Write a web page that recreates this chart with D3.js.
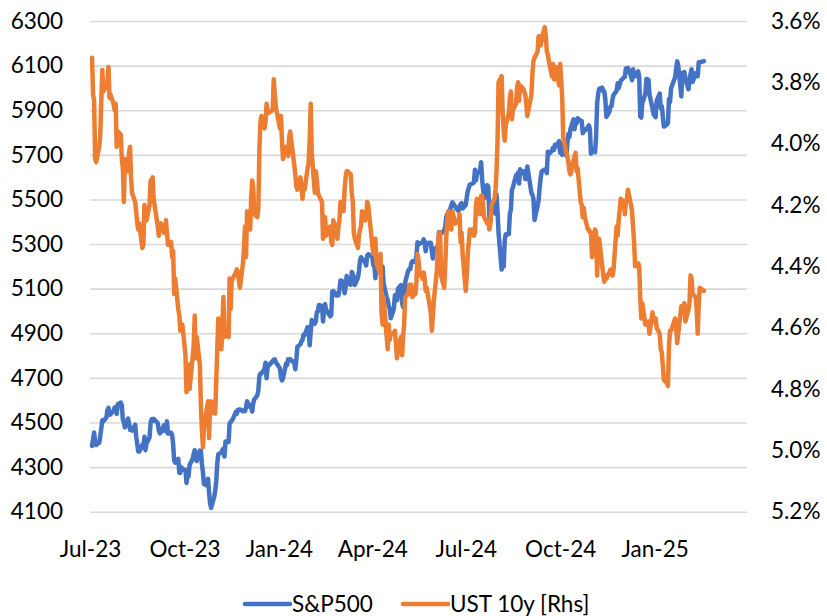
<!DOCTYPE html>
<html><head><meta charset="utf-8">
<script src="https://cdn.jsdelivr.net/npm/d3@7"></script>
<style>
body{margin:0;background:#fff;}
svg text{font-family:Lato,"Open Sans",sans-serif;fill:#000;}
</style></head>
<body><svg id="c" width="827" height="616"></svg>
<script>
const leftTicks = [4100,4300,4500,4700,4900,5100,5300,5500,5700,5900,6100,6300];
const rightTicks = [3.6,3.8,4.0,4.2,4.4,4.6,4.8,5.0,5.2];
const xTickLabels = ["2023-07-01","2023-10-01","2024-01-01","2024-04-01","2024-07-01","2024-10-01","2025-01-01"];
const seriesNames = ["S&P500","UST 10y [Rhs]"];

const spx = [
["2023-07-03",4395],["2023-07-05",4455],["2023-07-06",4411],["2023-07-07",4399],["2023-07-10",4409],["2023-07-11",4440],["2023-07-12",4473],["2023-07-13",4510],["2023-07-14",4505],["2023-07-17",4523],["2023-07-18",4555],["2023-07-19",4566],["2023-07-20",4535],["2023-07-21",4536],["2023-07-24",4555],["2023-07-25",4567],["2023-07-26",4566],["2023-07-27",4538],["2023-07-28",4582],["2023-07-31",4589],
["2023-08-01",4577],["2023-08-02",4513],["2023-08-03",4502],["2023-08-04",4478],["2023-08-07",4518],["2023-08-08",4499],["2023-08-09",4467],["2023-08-10",4468],["2023-08-11",4464],["2023-08-14",4490],["2023-08-15",4437],["2023-08-16",4404],["2023-08-17",4370],["2023-08-18",4370],["2023-08-21",4400],["2023-08-22",4388],["2023-08-23",4436],["2023-08-24",4376],["2023-08-25",4406],["2023-08-28",4433],["2023-08-29",4497],["2023-08-30",4514],["2023-08-31",4508],
["2023-09-01",4516],["2023-09-05",4497],["2023-09-06",4465],["2023-09-07",4451],["2023-09-08",4457],["2023-09-11",4487],["2023-09-12",4462],["2023-09-13",4467],["2023-09-14",4505],["2023-09-15",4450],["2023-09-18",4454],["2023-09-19",4444],["2023-09-20",4402],["2023-09-21",4330],["2023-09-22",4320],["2023-09-25",4337],["2023-09-26",4274],["2023-09-27",4274],["2023-09-28",4300],["2023-09-29",4288],
["2023-10-02",4288],["2023-10-03",4229],["2023-10-04",4263],["2023-10-05",4258],["2023-10-06",4309],["2023-10-09",4336],["2023-10-10",4358],["2023-10-11",4376],["2023-10-12",4349],["2023-10-13",4327],["2023-10-16",4374],["2023-10-17",4373],["2023-10-18",4315],["2023-10-19",4278],["2023-10-20",4224],["2023-10-23",4217],["2023-10-24",4248],["2023-10-25",4186],["2023-10-26",4137],["2023-10-27",4117],["2023-10-30",4167],["2023-10-31",4194],
["2023-11-01",4238],["2023-11-02",4318],["2023-11-03",4358],["2023-11-06",4365],["2023-11-07",4378],["2023-11-08",4383],["2023-11-09",4347],["2023-11-10",4415],["2023-11-13",4412],["2023-11-14",4496],["2023-11-15",4502],["2023-11-16",4508],["2023-11-17",4514],["2023-11-20",4547],["2023-11-21",4538],["2023-11-22",4556],["2023-11-24",4559],["2023-11-27",4550],["2023-11-28",4555],["2023-11-29",4551],["2023-11-30",4568],
["2023-12-01",4595],["2023-12-04",4569],["2023-12-05",4567],["2023-12-06",4549],["2023-12-07",4585],["2023-12-08",4604],["2023-12-11",4622],["2023-12-12",4644],["2023-12-13",4707],["2023-12-14",4720],["2023-12-15",4719],["2023-12-18",4740],["2023-12-19",4768],["2023-12-20",4698],["2023-12-21",4747],["2023-12-22",4755],["2023-12-26",4775],["2023-12-27",4782],["2023-12-28",4783],["2023-12-29",4770],
["2024-01-02",4743],["2024-01-03",4705],["2024-01-04",4689],["2024-01-05",4697],["2024-01-08",4764],["2024-01-09",4757],["2024-01-10",4783],["2024-01-11",4780],["2024-01-12",4784],["2024-01-16",4766],["2024-01-17",4739],["2024-01-18",4781],["2024-01-19",4840],["2024-01-22",4851],["2024-01-23",4865],["2024-01-24",4869],["2024-01-25",4894],["2024-01-26",4891],["2024-01-29",4928],["2024-01-30",4925],["2024-01-31",4846],
["2024-02-01",4906],["2024-02-02",4959],["2024-02-05",4943],["2024-02-06",4954],["2024-02-07",4995],["2024-02-08",4998],["2024-02-09",5027],["2024-02-12",5022],["2024-02-13",4953],["2024-02-14",5001],["2024-02-15",5030],["2024-02-16",5006],["2024-02-20",4976],["2024-02-21",4982],["2024-02-22",5088],["2024-02-23",5089],["2024-02-26",5070],["2024-02-27",5078],["2024-02-28",5070],["2024-02-29",5096],
["2024-03-01",5137],["2024-03-04",5131],["2024-03-05",5079],["2024-03-06",5105],["2024-03-07",5157],["2024-03-08",5124],["2024-03-11",5118],["2024-03-12",5175],["2024-03-13",5165],["2024-03-14",5150],["2024-03-15",5117],["2024-03-18",5149],["2024-03-19",5179],["2024-03-20",5225],["2024-03-21",5241],["2024-03-22",5234],["2024-03-25",5218],["2024-03-26",5204],["2024-03-27",5248],["2024-03-28",5254],
["2024-04-01",5243],["2024-04-02",5205],["2024-04-03",5211],["2024-04-04",5147],["2024-04-05",5204],["2024-04-08",5202],["2024-04-09",5209],["2024-04-10",5161],["2024-04-11",5199],["2024-04-12",5123],["2024-04-15",5061],["2024-04-16",5051],["2024-04-17",5022],["2024-04-18",5011],["2024-04-19",4967],["2024-04-22",5010],["2024-04-23",5070],["2024-04-24",5072],["2024-04-25",5048],["2024-04-26",5100],["2024-04-29",5116],["2024-04-30",5036],
["2024-05-01",5018],["2024-05-02",5064],["2024-05-03",5128],["2024-05-06",5181],["2024-05-07",5187],["2024-05-08",5188],["2024-05-09",5214],["2024-05-10",5223],["2024-05-13",5221],["2024-05-14",5247],["2024-05-15",5308],["2024-05-16",5297],["2024-05-17",5303],["2024-05-20",5308],["2024-05-21",5321],["2024-05-22",5307],["2024-05-23",5268],["2024-05-24",5305],["2024-05-28",5306],["2024-05-29",5267],["2024-05-30",5235],["2024-05-31",5278],
["2024-06-03",5283],["2024-06-04",5291],["2024-06-05",5354],["2024-06-06",5352],["2024-06-07",5347],["2024-06-10",5361],["2024-06-11",5375],["2024-06-12",5421],["2024-06-13",5434],["2024-06-14",5432],["2024-06-17",5473],["2024-06-18",5487],["2024-06-20",5473],["2024-06-21",5465],["2024-06-24",5448],["2024-06-25",5469],["2024-06-26",5478],["2024-06-27",5483],["2024-06-28",5460],
["2024-07-01",5475],["2024-07-02",5509],["2024-07-03",5537],["2024-07-05",5567],["2024-07-08",5572],["2024-07-09",5577],["2024-07-10",5633],["2024-07-11",5585],["2024-07-12",5615],["2024-07-15",5631],["2024-07-16",5667],["2024-07-17",5588],["2024-07-18",5545],["2024-07-19",5505],["2024-07-22",5564],["2024-07-23",5556],["2024-07-24",5427],["2024-07-25",5399],["2024-07-26",5459],["2024-07-29",5464],["2024-07-30",5436],["2024-07-31",5522],
["2024-08-01",5446],["2024-08-02",5347],["2024-08-05",5186],["2024-08-06",5240],["2024-08-07",5199],["2024-08-08",5319],["2024-08-09",5344],["2024-08-12",5344],["2024-08-13",5435],["2024-08-14",5455],["2024-08-15",5543],["2024-08-16",5554],["2024-08-19",5608],["2024-08-20",5597],["2024-08-21",5621],["2024-08-22",5571],["2024-08-23",5635],["2024-08-26",5617],["2024-08-27",5626],["2024-08-28",5592],["2024-08-29",5592],["2024-08-30",5648],
["2024-09-03",5529],["2024-09-04",5520],["2024-09-05",5503],["2024-09-06",5408],["2024-09-09",5471],["2024-09-10",5496],["2024-09-11",5554],["2024-09-12",5596],["2024-09-13",5626],["2024-09-16",5634],["2024-09-17",5634],["2024-09-18",5618],["2024-09-19",5714],["2024-09-20",5703],["2024-09-23",5718],["2024-09-24",5732],["2024-09-25",5722],["2024-09-26",5745],["2024-09-27",5738],["2024-09-30",5762],
["2024-10-01",5709],["2024-10-02",5710],["2024-10-03",5700],["2024-10-04",5751],["2024-10-07",5696],["2024-10-08",5751],["2024-10-09",5793],["2024-10-10",5780],["2024-10-11",5815],["2024-10-14",5859],["2024-10-15",5815],["2024-10-16",5843],["2024-10-17",5841],["2024-10-18",5864],["2024-10-21",5853],["2024-10-22",5851],["2024-10-23",5797],["2024-10-24",5809],["2024-10-25",5808],["2024-10-28",5823],["2024-10-29",5832],["2024-10-30",5813],["2024-10-31",5705],
["2024-11-01",5729],["2024-11-04",5712],["2024-11-05",5782],["2024-11-06",5929],["2024-11-07",5973],["2024-11-08",5996],["2024-11-11",6001],["2024-11-12",5984],["2024-11-13",5985],["2024-11-14",5949],["2024-11-15",5870],["2024-11-18",5894],["2024-11-19",5917],["2024-11-20",5917],["2024-11-21",5949],["2024-11-22",5969],["2024-11-25",5987],["2024-11-26",6021],["2024-11-27",5999],["2024-11-29",6032],
["2024-12-02",6047],["2024-12-03",6050],["2024-12-04",6087],["2024-12-05",6075],["2024-12-06",6090],["2024-12-09",6053],["2024-12-10",6034],["2024-12-11",6084],["2024-12-12",6051],["2024-12-13",6051],["2024-12-16",6074],["2024-12-17",6051],["2024-12-18",5872],["2024-12-19",5867],["2024-12-20",5931],["2024-12-23",5974],["2024-12-24",6040],["2024-12-26",6037],["2024-12-27",5971],["2024-12-30",5907],["2024-12-31",5882],
["2025-01-02",5869],["2025-01-03",5942],["2025-01-06",5975],["2025-01-07",5909],["2025-01-08",5918],["2025-01-10",5827],["2025-01-13",5836],["2025-01-14",5843],["2025-01-15",5950],["2025-01-16",5937],["2025-01-17",5997],["2025-01-21",6049],["2025-01-22",6086],["2025-01-23",6119],["2025-01-24",6101],["2025-01-27",5962],["2025-01-28",6067],["2025-01-29",6039],["2025-01-30",6071],["2025-01-31",6041],
["2025-02-03",5994],["2025-02-04",6038],["2025-02-05",6061],["2025-02-06",6084],["2025-02-07",6026],["2025-02-10",6066],["2025-02-11",6069],["2025-02-12",6052],["2025-02-13",6115],["2025-02-14",6115],["2025-02-18",6120]
];

const ust = [
["2023-07-03",3.72],["2023-07-04",3.84],["2023-07-05",3.86],["2023-07-06",4.05],["2023-07-07",4.06],["2023-07-10",4.01],["2023-07-11",3.97],["2023-07-12",3.86],["2023-07-13",3.76],["2023-07-14",3.83],["2023-07-17",3.81],["2023-07-18",3.80],["2023-07-19",3.75],["2023-07-20",3.85],["2023-07-21",3.84],["2023-07-24",3.87],["2023-07-25",3.89],["2023-07-26",3.87],["2023-07-27",4.01],["2023-07-28",3.96],["2023-07-31",3.97],
["2023-08-01",4.05],["2023-08-02",4.08],["2023-08-03",4.19],["2023-08-04",4.05],["2023-08-07",4.09],["2023-08-08",4.03],["2023-08-09",4.01],["2023-08-10",4.11],["2023-08-11",4.16],["2023-08-14",4.19],["2023-08-15",4.22],["2023-08-16",4.26],["2023-08-17",4.28],["2023-08-18",4.26],["2023-08-21",4.34],["2023-08-22",4.33],["2023-08-23",4.20],["2023-08-24",4.24],["2023-08-25",4.25],["2023-08-28",4.20],["2023-08-29",4.12],["2023-08-30",4.12],["2023-08-31",4.11],
["2023-09-01",4.18],["2023-09-05",4.27],["2023-09-06",4.30],["2023-09-07",4.27],["2023-09-08",4.26],["2023-09-11",4.29],["2023-09-12",4.28],["2023-09-13",4.25],["2023-09-14",4.29],["2023-09-15",4.33],["2023-09-18",4.32],["2023-09-19",4.37],["2023-09-20",4.35],["2023-09-21",4.49],["2023-09-22",4.44],["2023-09-25",4.54],["2023-09-26",4.56],["2023-09-27",4.61],["2023-09-28",4.59],["2023-09-29",4.59],
["2023-10-02",4.69],["2023-10-03",4.81],["2023-10-04",4.73],["2023-10-05",4.72],["2023-10-06",4.80],["2023-10-10",4.66],["2023-10-11",4.56],["2023-10-12",4.70],["2023-10-13",4.63],["2023-10-16",4.72],["2023-10-17",4.85],["2023-10-18",4.93],["2023-10-19",4.99],["2023-10-20",4.93],["2023-10-23",4.86],["2023-10-24",4.84],["2023-10-25",4.96],["2023-10-26",4.85],["2023-10-27",4.84],["2023-10-30",4.88],["2023-10-31",4.88],
["2023-11-01",4.77],["2023-11-02",4.67],["2023-11-03",4.57],["2023-11-06",4.67],["2023-11-07",4.58],["2023-11-08",4.50],["2023-11-09",4.63],["2023-11-10",4.61],["2023-11-13",4.63],["2023-11-14",4.44],["2023-11-15",4.54],["2023-11-16",4.45],["2023-11-17",4.44],["2023-11-20",4.42],["2023-11-21",4.41],["2023-11-22",4.42],["2023-11-24",4.47],["2023-11-27",4.39],["2023-11-28",4.34],["2023-11-29",4.27],["2023-11-30",4.37],
["2023-12-01",4.22],["2023-12-04",4.28],["2023-12-05",4.18],["2023-12-06",4.12],["2023-12-07",4.14],["2023-12-08",4.23],["2023-12-11",4.24],["2023-12-12",4.21],["2023-12-13",4.02],["2023-12-14",3.93],["2023-12-15",3.91],["2023-12-18",3.95],["2023-12-19",3.93],["2023-12-20",3.87],["2023-12-21",3.89],["2023-12-22",3.90],["2023-12-26",3.89],["2023-12-27",3.79],["2023-12-28",3.84],["2023-12-29",3.88],
["2024-01-02",3.95],["2024-01-03",3.91],["2024-01-04",3.99],["2024-01-05",4.05],["2024-01-08",4.01],["2024-01-09",4.02],["2024-01-10",4.04],["2024-01-11",3.98],["2024-01-12",3.96],["2024-01-16",4.07],["2024-01-17",4.10],["2024-01-18",4.14],["2024-01-19",4.15],["2024-01-22",4.11],["2024-01-23",4.14],["2024-01-24",4.18],["2024-01-25",4.14],["2024-01-26",4.15],["2024-01-29",4.08],["2024-01-30",4.06],["2024-01-31",3.99],
["2024-02-01",3.87],["2024-02-02",4.03],["2024-02-05",4.16],["2024-02-06",4.09],["2024-02-07",4.12],["2024-02-08",4.16],["2024-02-09",4.17],["2024-02-12",4.19],["2024-02-13",4.31],["2024-02-14",4.27],["2024-02-15",4.24],["2024-02-16",4.30],["2024-02-20",4.27],["2024-02-21",4.32],["2024-02-22",4.33],["2024-02-23",4.25],["2024-02-26",4.28],["2024-02-27",4.31],["2024-02-28",4.27],["2024-02-29",4.25],
["2024-03-01",4.19],["2024-03-04",4.22],["2024-03-05",4.15],["2024-03-06",4.11],["2024-03-07",4.09],["2024-03-08",4.09],["2024-03-11",4.10],["2024-03-12",4.16],["2024-03-13",4.19],["2024-03-14",4.29],["2024-03-15",4.31],["2024-03-18",4.34],["2024-03-19",4.30],["2024-03-20",4.28],["2024-03-21",4.27],["2024-03-22",4.22],["2024-03-25",4.25],["2024-03-26",4.24],["2024-03-27",4.19],["2024-03-28",4.20],
["2024-04-01",4.33],["2024-04-02",4.36],["2024-04-03",4.36],["2024-04-04",4.31],["2024-04-05",4.39],["2024-04-08",4.42],["2024-04-09",4.36],["2024-04-10",4.55],["2024-04-11",4.59],["2024-04-12",4.50],["2024-04-15",4.63],["2024-04-16",4.67],["2024-04-17",4.59],["2024-04-18",4.64],["2024-04-19",4.62],["2024-04-22",4.62],["2024-04-23",4.61],["2024-04-24",4.65],["2024-04-25",4.70],["2024-04-26",4.67],["2024-04-29",4.63],["2024-04-30",4.69],
["2024-05-01",4.63],["2024-05-02",4.59],["2024-05-03",4.50],["2024-05-06",4.49],["2024-05-07",4.46],["2024-05-08",4.49],["2024-05-09",4.46],["2024-05-10",4.50],["2024-05-13",4.49],["2024-05-14",4.45],["2024-05-15",4.36],["2024-05-16",4.38],["2024-05-17",4.42],["2024-05-20",4.44],["2024-05-21",4.42],["2024-05-22",4.44],["2024-05-23",4.48],["2024-05-24",4.47],["2024-05-28",4.55],["2024-05-29",4.61],["2024-05-30",4.56],["2024-05-31",4.51],
["2024-06-03",4.41],["2024-06-04",4.33],["2024-06-05",4.29],["2024-06-06",4.29],["2024-06-07",4.43],["2024-06-10",4.47],["2024-06-11",4.40],["2024-06-12",4.31],["2024-06-13",4.25],["2024-06-14",4.22],["2024-06-17",4.28],["2024-06-18",4.22],["2024-06-20",4.25],["2024-06-21",4.26],["2024-06-24",4.25],["2024-06-25",4.23],["2024-06-26",4.32],["2024-06-27",4.29],["2024-06-28",4.36],
["2024-07-01",4.48],["2024-07-02",4.43],["2024-07-03",4.36],["2024-07-05",4.28],["2024-07-08",4.28],["2024-07-09",4.30],["2024-07-10",4.29],["2024-07-11",4.20],["2024-07-12",4.18],["2024-07-15",4.23],["2024-07-16",4.17],["2024-07-17",4.17],["2024-07-18",4.20],["2024-07-19",4.24],["2024-07-22",4.26],["2024-07-23",4.25],["2024-07-24",4.28],["2024-07-25",4.26],["2024-07-26",4.20],["2024-07-29",4.18],["2024-07-30",4.15],["2024-07-31",4.09],
["2024-08-01",3.99],["2024-08-02",3.80],["2024-08-05",3.78],["2024-08-06",3.90],["2024-08-07",3.96],["2024-08-08",3.99],["2024-08-09",3.94],["2024-08-12",3.90],["2024-08-13",3.85],["2024-08-14",3.83],["2024-08-15",3.92],["2024-08-16",3.89],["2024-08-19",3.87],["2024-08-20",3.82],["2024-08-21",3.80],["2024-08-22",3.86],["2024-08-23",3.81],["2024-08-26",3.82],["2024-08-27",3.83],["2024-08-28",3.84],["2024-08-29",3.87],["2024-08-30",3.91],
["2024-09-03",3.84],["2024-09-04",3.77],["2024-09-05",3.73],["2024-09-06",3.72],["2024-09-09",3.70],["2024-09-10",3.65],["2024-09-11",3.65],["2024-09-12",3.68],["2024-09-13",3.66],["2024-09-16",3.62],["2024-09-17",3.65],["2024-09-18",3.70],["2024-09-19",3.71],["2024-09-20",3.73],["2024-09-23",3.78],["2024-09-24",3.74],["2024-09-25",3.79],["2024-09-26",3.79],["2024-09-27",3.75],["2024-09-30",3.81],
["2024-10-01",3.74],["2024-10-02",3.79],["2024-10-03",3.85],["2024-10-04",3.98],["2024-10-07",4.03],["2024-10-08",4.04],["2024-10-09",4.06],["2024-10-10",4.09],["2024-10-11",4.10],["2024-10-15",4.04],["2024-10-16",4.03],["2024-10-17",4.09],["2024-10-18",4.08],["2024-10-21",4.19],["2024-10-22",4.20],["2024-10-23",4.24],["2024-10-24",4.21],["2024-10-25",4.24],["2024-10-28",4.28],["2024-10-29",4.28],["2024-10-30",4.29],["2024-10-31",4.29],
["2024-11-01",4.37],["2024-11-04",4.28],["2024-11-05",4.29],["2024-11-06",4.43],["2024-11-07",4.33],["2024-11-08",4.31],["2024-11-12",4.43],["2024-11-13",4.45],["2024-11-14",4.43],["2024-11-15",4.44],["2024-11-18",4.42],["2024-11-19",4.41],["2024-11-20",4.41],["2024-11-21",4.43],["2024-11-22",4.41],["2024-11-25",4.27],["2024-11-26",4.30],["2024-11-27",4.25],["2024-11-29",4.18],
["2024-12-02",4.19],["2024-12-03",4.23],["2024-12-04",4.19],["2024-12-05",4.18],["2024-12-06",4.15],["2024-12-09",4.20],["2024-12-10",4.22],["2024-12-11",4.27],["2024-12-12",4.32],["2024-12-13",4.40],["2024-12-16",4.39],["2024-12-17",4.40],["2024-12-18",4.50],["2024-12-19",4.57],["2024-12-20",4.52],["2024-12-23",4.59],["2024-12-24",4.59],["2024-12-26",4.58],["2024-12-27",4.62],["2024-12-30",4.55],["2024-12-31",4.58],
["2025-01-02",4.57],["2025-01-03",4.60],["2025-01-06",4.62],["2025-01-07",4.67],["2025-01-08",4.68],["2025-01-10",4.77],["2025-01-13",4.78],["2025-01-14",4.79],["2025-01-15",4.66],["2025-01-16",4.61],["2025-01-17",4.61],["2025-01-21",4.57],["2025-01-22",4.60],["2025-01-23",4.65],["2025-01-24",4.62],["2025-01-27",4.53],["2025-01-28",4.55],["2025-01-29",4.55],["2025-01-30",4.52],["2025-01-31",4.58],
["2025-02-03",4.54],["2025-02-04",4.52],["2025-02-05",4.43],["2025-02-06",4.44],["2025-02-07",4.49],["2025-02-10",4.50],["2025-02-11",4.54],["2025-02-12",4.62],["2025-02-13",4.52],["2025-02-14",4.47],["2025-02-18",4.48]
];

const parse = d3.timeParse("%Y-%m-%d");
const svg = d3.select("#c");
const L = 90, R = 747, T = 21, B = 511.7;

const x = d3.scaleTime().domain([parse("2023-07-01"), parse("2025-04-01")]).range([L, R]);
const yL = d3.scaleLinear().domain([4100, 6300]).range([B, T]);
const yR = d3.scaleLinear().domain([3.6, 5.2]).range([T, B]);

// gridlines
svg.append("g").attr("transform", `translate(${L},0)`)
  .call(d3.axisLeft(yL).tickValues(leftTicks).tickSize(-(R - L)).tickFormat(""))
  .call(g => g.select(".domain").remove())
  .call(g => g.selectAll("line").attr("stroke", "#d9d9d9").attr("stroke-width", 1.6));

// left axis labels
svg.append("g").attr("transform", `translate(${L},0)`)
  .call(d3.axisLeft(yL).tickValues(leftTicks).tickSize(0).tickPadding(27).tickFormat(d3.format("d")))
  .call(g => g.select(".domain").remove())
  .call(g => g.selectAll("text").attr("font-size", 22.5).attr("font-family", "Lato"));

// right axis labels
svg.append("g").attr("transform", `translate(${R},0)`)
  .call(d3.axisRight(yR).tickValues(rightTicks).tickSize(0).tickPadding(24).tickFormat(d => d3.format(".1f")(d) + "%"))
  .call(g => g.select(".domain").remove())
  .call(g => g.selectAll("text").attr("font-size", 22.5).attr("font-family", "Lato"));

// x axis labels
svg.append("g").attr("transform", `translate(0,${B})`)
  .call(d3.axisBottom(x).tickValues(xTickLabels.map(parse)).tickSize(0).tickPadding(29).tickFormat(d3.timeFormat("%b-%y")))
  .call(g => g.select(".domain").remove())
  .call(g => g.selectAll("text").attr("font-size", 22.5).attr("font-family", "Lato"));

const spxLine = d3.line().x(d => x(parse(d[0]))).y(d => yL(d[1]));
const ustLine = d3.line().x(d => x(parse(d[0]))).y(d => yR(d[1]));

svg.append("path").datum(spx).attr("d", spxLine)
  .attr("fill", "none").attr("stroke", "#4472C4").attr("stroke-width", 4.5)
  .attr("stroke-linejoin", "round").attr("stroke-linecap", "round");
svg.append("path").datum(ust).attr("d", ustLine)
  .attr("fill", "none").attr("stroke", "#ED7D31").attr("stroke-width", 4.5)
  .attr("stroke-linejoin", "round").attr("stroke-linecap", "round");

// legend
const legend = [
  {name: seriesNames[0], color: "#4472C4", x0: 245},
  {name: seriesNames[1], color: "#ED7D31", x0: 403}
];
const lg = svg.append("g");
legend.forEach(l => {
  lg.append("line").attr("x1", l.x0).attr("x2", l.x0 + 45).attr("y1", 604).attr("y2", 604)
    .attr("stroke", l.color).attr("stroke-width", 4.5).attr("stroke-linecap", "round");
  lg.append("text").attr("x", l.x0 + 47).attr("y", 604).attr("dy", "0.35em")
    .attr("font-size", 22.5).text(l.name);
});
</script></body></html>
